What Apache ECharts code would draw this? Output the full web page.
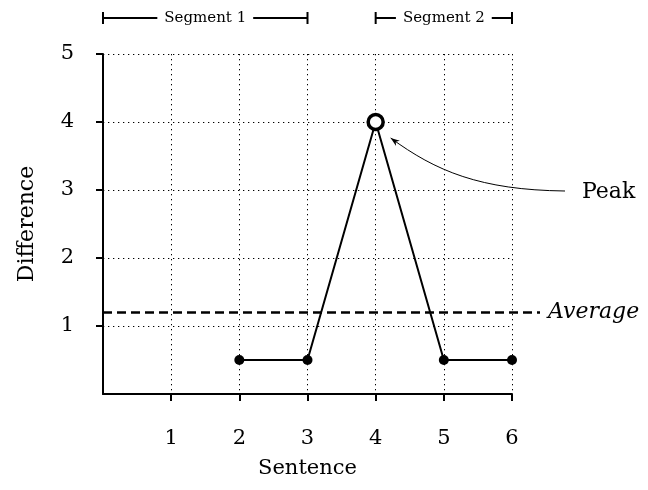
<!DOCTYPE html>
<html>
<head>
<meta charset="utf-8">
<script src="https://cdn.jsdelivr.net/npm/echarts@6/dist/echarts.min.js"></script>
<style>
  html, body { margin: 0; padding: 0; background: #fff; }
  #chart { width: 648px; height: 490px; }
</style>
</head>
<body>
<div id="chart"></div>
<script>
// Difference score per sentence
const sentences = [2, 3, 4, 5, 6];
const differences = [0.5, 0.5, 4, 0.5, 0.5];
const peakIndex = 2;
const xTicks = [1, 2, 3, 4, 5, 6];
const yTicks = [1, 2, 3, 4, 5];
// Segment spans along the sentence axis
const segmentNames = ['Segment 1', 'Segment 2'];
const segmentStarts = [0, 4];
const segmentEnds = [3, 6];

const average = differences.reduce((a, b) => a + b, 0) / differences.length;

const FONT = '"DejaVu Serif", "Liberation Serif", serif';
const chart = echarts.init(document.getElementById('chart'));

const points = sentences.map((s, i) => [s, differences[i]]);
const dotted = { color: '#000', width: 1, type: [1.3, 3.7] };

chart.setOption({
  animation: false,
  backgroundColor: '#fff',
  grid: { left: 103, right: 136, top: 54, bottom: 96, outerBoundsMode: 'none', containLabel: false },
  xAxis: {
    type: 'value',
    min: 0, max: xTicks[xTicks.length - 1], interval: 1,
    name: 'Sentence', nameLocation: 'middle', nameGap: 64,
    nameTextStyle: { fontFamily: FONT, fontSize: 21, color: '#000' },
    axisLine: { onZero: false, lineStyle: { color: '#000', width: 2 } },
    axisTick: { show: true, length: 7, customValues: xTicks, lineStyle: { color: '#000', width: 2 } },
    axisLabel: { margin: 34, customValues: xTicks, fontFamily: FONT, fontSize: 21, color: '#000' },
    splitLine: { show: true, lineStyle: dotted }
  },
  yAxis: {
    type: 'value',
    min: 0, max: yTicks[yTicks.length - 1], interval: 1,
    name: 'Difference', nameLocation: 'middle', nameGap: 65, nameRotate: 90,
    nameTextStyle: { fontFamily: FONT, fontSize: 22, color: '#000' },
    axisLine: { show: true, onZero: false, lineStyle: { color: '#000', width: 2 } },
    axisTick: { show: true, length: 7, customValues: yTicks, lineStyle: { color: '#000', width: 2 } },
    axisLabel: { margin: 29, customValues: yTicks, fontFamily: FONT, fontSize: 21, color: '#000' },
    splitLine: { show: true, lineStyle: dotted }
  },
  series: [{
    type: 'line',
    data: points.map((p, i) => i === peakIndex ? {
      value: p, symbolSize: 15,
      itemStyle: { color: '#fff', borderColor: '#000', borderWidth: 3.5 }
    } : { value: p }),
    symbol: 'circle',
    symbolSize: 10,
    showAllSymbol: true,
    clip: false,
    z: 5,
    lineStyle: { color: '#000', width: 2 },
    itemStyle: { color: '#000', borderWidth: 0 }
  }]
});

function px(x, y) { return chart.convertToPixel({ gridIndex: 0 }, [x, y]); }

function drawAnnotations() {
  const els = [];
  const lineStyle = { stroke: '#000', lineWidth: 2 };

  // Dashed average line, running past the plot to its label
  const a0 = px(0, average);
  const a1 = px(6, average);
  els.push({
    type: 'line', z: 4,
    shape: { x1: a0[0], y1: a0[1], x2: a1[0] + 28, y2: a1[1] },
    style: { stroke: '#000', lineWidth: 2.5, lineDash: [9, 5] }
  });
  els.push({
    type: 'text', z: 4,
    style: {
      x: a1[0] + 36, y: a1[1], text: 'Average',
      font: 'italic 22px ' + FONT, fill: '#000',
      textAlign: 'left', textVerticalAlign: 'middle'
    }
  });

  // Segment brackets above the plot
  const bracketY = 18;
  const segFont = '15px ' + FONT;
  segmentNames.forEach((name, i) => {
    const s = px(segmentStarts[i], 0)[0];
    const e = px(segmentEnds[i], 0)[0];
    const mid = (s + e) / 2;
    const tw = echarts.format.getTextRect
      ? echarts.format.getTextRect(name, segFont).width
      : name.length * 8.5;
    const gap = tw / 2 + 7;
    els.push({ type: 'line', shape: { x1: s, y1: bracketY, x2: mid - gap, y2: bracketY }, style: lineStyle });
    els.push({ type: 'line', shape: { x1: mid + gap, y1: bracketY, x2: e, y2: bracketY }, style: lineStyle });
    els.push({ type: 'line', shape: { x1: s, y1: bracketY - 6, x2: s, y2: bracketY + 6 }, style: lineStyle });
    els.push({ type: 'line', shape: { x1: e, y1: bracketY - 6, x2: e, y2: bracketY + 6 }, style: lineStyle });
    els.push({
      type: 'text',
      style: {
        x: mid, y: bracketY, text: name, font: segFont, fill: '#000',
        textAlign: 'center', textVerticalAlign: 'middle'
      }
    });
  });

  // Curved pointer from the "Peak" label to the peak marker
  const peak = px(sentences[peakIndex], differences[peakIndex]);
  const tip = [peak[0] + 15, peak[1] + 16];
  const labelPt = px(6, 3);
  const start = [labelPt[0] + 53, labelPt[1] + 1];
  const c1 = [start[0] - 85, start[1] - 1];
  const c2 = [tip[0] + 45, tip[1] + 33];
  els.push({
    type: 'bezierCurve',
    shape: { x1: start[0], y1: start[1], cpx1: c1[0], cpy1: c1[1], cpx2: c2[0], cpy2: c2[1], x2: tip[0], y2: tip[1] },
    style: { stroke: '#000', lineWidth: 1, fill: null }
  });
  // arrow head
  const dx = tip[0] - c2[0], dy = tip[1] - c2[1];
  const len = Math.hypot(dx, dy);
  const ux = dx / len, uy = dy / len;
  const hl = 9, hw = 3.2;
  els.push({
    type: 'polygon',
    shape: {
      points: [
        tip,
        [tip[0] - ux * hl - uy * hw, tip[1] - uy * hl + ux * hw],
        [tip[0] - ux * hl * 0.7, tip[1] - uy * hl * 0.7],
        [tip[0] - ux * hl + uy * hw, tip[1] - uy * hl - ux * hw]
      ]
    },
    style: { fill: '#000' }
  });
  els.push({
    type: 'text',
    style: {
      x: start[0] + 17, y: start[1] + 1, text: 'Peak', font: '22px ' + FONT, fill: '#000',
      textAlign: 'left', textVerticalAlign: 'middle'
    }
  });

  chart.setOption({ graphic: { elements: els } });
}

drawAnnotations();
</script>
</body>
</html>
